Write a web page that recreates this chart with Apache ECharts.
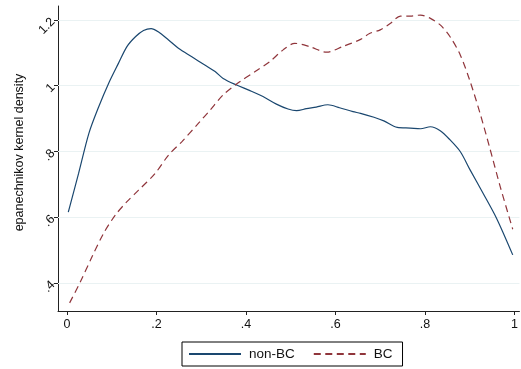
<!DOCTYPE html>
<html>
<head>
<meta charset="utf-8">
<script src="https://cdn.jsdelivr.net/npm/echarts@6/dist/echarts.min.js"></script>
<style>
  html, body { margin: 0; padding: 0; background: #fff; }
  #chart { width: 521px; height: 369px; }
</style>
</head>
<body>
<div id="chart"></div>
<script>
// Epanechnikov kernel density estimates for the two groups
const nonBcX = [0.003, 0.026, 0.049, 0.071, 0.093, 0.115, 0.134, 0.153, 0.171, 0.188,
  0.204, 0.227, 0.249, 0.279, 0.308, 0.331, 0.349, 0.379, 0.409, 0.438,
  0.468, 0.494, 0.513, 0.535, 0.557, 0.583, 0.609, 0.639, 0.656, 0.686,
  0.708, 0.738, 0.767, 0.790, 0.812, 0.834, 0.856, 0.879, 0.901, 0.930,
  0.960, 0.996];
const nonBcY = [0.615, 0.733, 0.855, 0.936, 1.007, 1.068, 1.119, 1.149, 1.168, 1.174,
  1.164, 1.139, 1.114, 1.088, 1.063, 1.043, 1.022, 1.002, 0.985, 0.967,
  0.944, 0.929, 0.924, 0.930, 0.935, 0.942, 0.933, 0.921, 0.916, 0.904,
  0.893, 0.873, 0.871, 0.869, 0.875, 0.863, 0.835, 0.799, 0.743, 0.672,
  0.596, 0.485];

const bcX = [0.006, 0.030, 0.056, 0.082, 0.108, 0.134, 0.160, 0.197, 0.227, 0.257,
  0.294, 0.320, 0.349, 0.386, 0.424, 0.453, 0.483, 0.509, 0.542, 0.580,
  0.616, 0.656, 0.676, 0.700, 0.723, 0.745, 0.767, 0.790, 0.812, 0.834,
  0.856, 0.879, 0.901, 0.923, 0.945, 0.968, 0.996];
const bcY = [0.339, 0.403, 0.479, 0.551, 0.606, 0.647, 0.682, 0.733, 0.789, 0.830,
  0.886, 0.926, 0.972, 1.012, 1.046, 1.073, 1.109, 1.129, 1.119, 1.102,
  1.119, 1.141, 1.159, 1.170, 1.190, 1.212, 1.212, 1.215, 1.205, 1.185,
  1.149, 1.093, 1.012, 0.916, 0.809, 0.693, 0.563];

const xTicks = [0, 0.2, 0.4, 0.6, 0.8, 1];
const yTicks = [0.4, 0.6, 0.8, 1.0, 1.2];
const seriesNames = ['non-BC', 'BC'];

function zip(xs, ys) { return xs.map((x, i) => [x, ys[i]]); }
function stataNum(v) {
  const r = Math.round(v * 10) / 10;
  if (r === 0) return '0';
  if (Number.isInteger(r)) return String(r);
  const s = String(r);
  return s.startsWith('0.') ? s.slice(1) : s;
}

const FONT = '"Liberation Sans", Arial, sans-serif';
const chart = echarts.init(document.getElementById('chart'), null, { renderer: 'canvas' });

chart.setOption({
  animation: false,
  backgroundColor: '#ffffff',
  grid: { left: 58, right: 1, top: 6, bottom: 58, containLabel: false },
  xAxis: {
    type: 'value',
    min: -0.020,
    max: 1.011,
    axisLine: { show: true, onZero: false, lineStyle: { color: '#222', width: 1 } },
    axisTick: { show: true, length: 4, customValues: xTicks, lineStyle: { color: '#222' } },
    axisLabel: { customValues: xTicks, formatter: stataNum, color: '#111',
      fontFamily: FONT, fontSize: 12.5, margin: 7 },
    splitLine: { show: false }
  },
  yAxis: {
    type: 'value',
    min: 0.3142,
    max: 1.2426,
    name: 'epanechnikov kernel density',
    nameLocation: 'middle',
    nameRotate: 90,
    nameGap: 28.5,
    nameTextStyle: { color: '#111', fontFamily: FONT, fontSize: 12.5, padding: [0, 0, 0, 12] },
    axisLine: { show: true, onZero: false, lineStyle: { color: '#222', width: 1 } },
    axisTick: { show: true, length: 4, customValues: yTicks, lineStyle: { color: '#222' } },
    axisLabel: { customValues: yTicks, formatter: stataNum, rotate: 45, color: '#111',
      fontFamily: FONT, fontSize: 12.5, margin: 5 },
    splitLine: { show: false }
  },
  legend: {
    data: seriesNames,
    left: 182,
    top: 342,
    orient: 'horizontal',
    borderColor: '#000',
    borderWidth: 1,
    padding: [5, 10, 5, 6],
    itemWidth: 52,
    itemHeight: 14,
    itemGap: 18,
    itemStyle: { opacity: 0 },
    textStyle: { color: '#111', fontFamily: FONT, fontSize: 13.5, padding: [0, 0, 0, 3] }
  },
  series: [
    {
      name: seriesNames[0],
      type: 'line',
      data: zip(nonBcX, nonBcY),
      showSymbol: false,
      symbol: 'none',
      smooth: 0.3,
      lineStyle: { color: '#1a476f', width: 1.2 },
      itemStyle: { color: '#1a476f' },
      z: 3,
      markLine: {
        silent: true,
        symbol: 'none',
        label: { show: false },
        lineStyle: { color: '#eaf2f3', width: 1, type: 'solid' },
        data: yTicks.map(v => ({ yAxis: v })),
        z: 1
      }
    },
    {
      name: seriesNames[1],
      type: 'line',
      data: zip(bcX, bcY),
      showSymbol: false,
      symbol: 'none',
      smooth: 0.3,
      lineStyle: { color: '#90353b', width: 1.2, type: [7, 4.5] },
      itemStyle: { color: '#90353b' },
      z: 3
    }
  ]
});
</script>
</body>
</html>
